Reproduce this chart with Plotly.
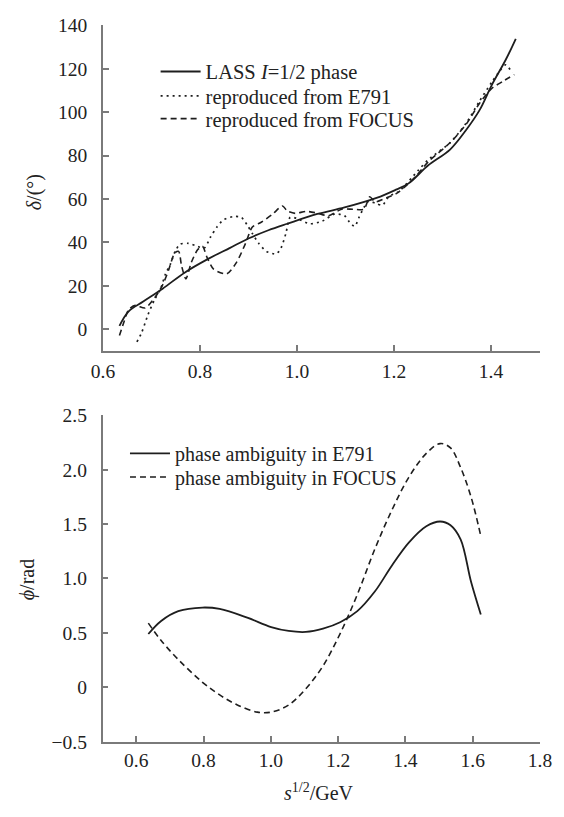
import plotly.graph_objects as go

# ---------- top panel data ----------
lass_x = [0.634, 0.653, 0.683, 0.723, 0.769, 0.815, 0.861, 0.901, 0.941, 0.980, 1.042, 1.098,
          1.164, 1.204, 1.230, 1.270, 1.316, 1.349, 1.376, 1.402, 1.430, 1.451]
lass_y = [1.6, 8.3, 12.8, 18.7, 26.2, 32.2, 37.4, 41.9, 45.6, 48.6, 53.1, 56.1,
          60.5, 64.3, 67.2, 75.4, 82.9, 91.9, 100.8, 112.7, 124.0, 133.8]

e791_x = [0.670, 0.680, 0.693, 0.706, 0.719, 0.729, 0.739, 0.749, 0.759, 0.776, 0.795, 0.809,
          0.822, 0.835, 0.848, 0.868, 0.885, 0.898, 0.908, 0.921, 0.937, 0.957, 0.967, 0.977,
          0.986, 1.000, 1.026, 1.052, 1.078, 1.098, 1.108, 1.119, 1.128, 1.138, 1.148, 1.162,
          1.176, 1.190, 1.210, 1.250, 1.270, 1.316, 1.349, 1.376, 1.402, 1.418, 1.430, 1.444]
e791_y = [-5.8, -1.4, 6.8, 13.5, 18.7, 25.5, 30.0, 35.9, 39.2, 39.6, 38.2, 37.4,
          42.6, 47.1, 50.4, 51.9, 51.6, 47.8, 44.1, 39.6, 35.9, 34.7, 37.4, 44.1,
          51.6, 51.0, 48.6, 49.8, 53.1, 52.3, 49.4, 47.4, 51.6, 56.1, 59.0, 58.0,
          57.2, 61.3, 63.5, 73.2, 78.0, 86.0, 95.0, 105.0, 114.0, 119.0, 121.8, 118.0]

focus_x = [0.634, 0.644, 0.653, 0.667, 0.687, 0.706, 0.723, 0.736, 0.748, 0.756, 0.762, 0.771,
           0.782, 0.795, 0.805, 0.815, 0.828, 0.855, 0.875, 0.894, 0.908, 0.927, 0.950, 0.970,
           0.980, 0.996, 1.019, 1.042, 1.065, 1.092, 1.115, 1.138, 1.150, 1.161, 1.184, 1.207,
           1.244, 1.270, 1.316, 1.349, 1.376, 1.402, 1.423, 1.448]
focus_y = [-2.9, 3.8, 9.1, 11.0, 9.8, 14.3, 20.4, 27.7, 35.2, 35.9, 29.3, 23.2,
           30.7, 36.6, 38.2, 32.9, 27.7, 25.5, 30.7, 39.6, 47.1, 49.4, 53.1, 56.8,
           54.5, 53.4, 54.3, 53.5, 52.3, 55.3, 55.3, 55.3, 61.0, 58.7, 60.5, 62.8,
           70.2, 77.0, 86.0, 94.5, 104.0, 111.0, 114.0, 117.3]

top_xticks = [0.6, 0.8, 1.0, 1.2, 1.4]
top_xtext = ["0.6", "0.8", "1.0", "1.2", "1.4"]
top_yticks = [0, 20, 40, 60, 80, 100, 120, 140]
top_ytext = ["0", "20", "40", "60", "80", "100", "120", "140"]

# ---------- bottom panel data ----------
amb_e791_x = [0.636, 0.674, 0.725, 0.797, 0.848, 0.930, 1.001, 1.053, 1.104, 1.155, 1.206,
              1.257, 1.309, 1.360, 1.410, 1.462, 1.503, 1.534, 1.564, 1.595, 1.624]
amb_e791_y = [0.49, 0.61, 0.70, 0.733, 0.72, 0.64, 0.554, 0.518, 0.509, 0.539, 0.598,
              0.70, 0.88, 1.12, 1.33, 1.48, 1.524, 1.49, 1.36, 0.97, 0.67]

amb_focus_x = [0.636, 0.674, 0.725, 0.797, 0.848, 0.899, 0.960, 1.001, 1.053, 1.104, 1.155,
               1.206, 1.257, 1.309, 1.360, 1.410, 1.462, 1.503, 1.534, 1.564, 1.595, 1.624]
amb_focus_y = [0.59, 0.43, 0.255, 0.046, -0.07, -0.16, -0.228, -0.228, -0.163, -0.013, 0.196,
               0.494, 0.852, 1.27, 1.63, 1.93, 2.15, 2.24, 2.20, 2.02, 1.75, 1.39]

bot_xticks = [0.6, 0.8, 1.0, 1.2, 1.4, 1.6, 1.8]
bot_xtext = ["0.6", "0.8", "1.0", "1.2", "1.4", "1.6", "1.8"]
bot_yticks = [-0.5, 0, 0.5, 1.0, 1.5, 2.0, 2.5]
bot_ytext = ["\u22120.5", "0", "0.5", "1.0", "1.5", "2.0", "2.5"]

W, H = 564, 817
FONT = "Liberation Serif, Times New Roman, serif"
LINE = "#1e1e1e"
AX = "#7a7a7a"
DOT = "2px,4px"
DASH = "6px,4px"

fig = go.Figure()
fig.add_trace(go.Scatter(x=lass_x, y=lass_y, mode="lines", name="LASS <i>I</i>=1/2 phase",
                         line=dict(color=LINE, width=1.8, shape="spline", smoothing=1),
                         xaxis="x", yaxis="y", legend="legend"))
fig.add_trace(go.Scatter(x=e791_x, y=e791_y, mode="lines", name="reproduced from E791",
                         line=dict(color=LINE, width=1.7, dash=DOT, shape="spline", smoothing=0.7),
                         xaxis="x", yaxis="y", legend="legend2"))
fig.add_trace(go.Scatter(x=focus_x, y=focus_y, mode="lines", name="reproduced from FOCUS",
                         line=dict(color=LINE, width=1.6, dash=DASH, shape="spline", smoothing=0.7),
                         xaxis="x", yaxis="y", legend="legend3"))
fig.add_trace(go.Scatter(x=amb_e791_x, y=amb_e791_y, mode="lines", name="phase ambiguity in E791",
                         line=dict(color=LINE, width=1.8, shape="spline", smoothing=1),
                         xaxis="x2", yaxis="y2", legend="legend4"))
fig.add_trace(go.Scatter(x=amb_focus_x, y=amb_focus_y, mode="lines", name="phase ambiguity in FOCUS",
                         line=dict(color=LINE, width=1.6, dash=DASH, shape="spline", smoothing=1),
                         xaxis="x2", yaxis="y2", legend="legend5"))

axis_common = dict(showline=True, linecolor=AX, linewidth=1.5, mirror=False, showgrid=False,
                   zeroline=False, ticks="inside", ticklen=6, tickwidth=1.5, tickcolor=AX,
                   ticklabeloverflow="allow",
                   tickfont=dict(family=FONT, size=19.5, color="#222"), fixedrange=True)


def leg(xpx, ypx, size):
    return dict(x=xpx / W, y=1 - ypx / H, xanchor="left", yanchor="middle",
                bgcolor="rgba(0,0,0,0)", font=dict(family=FONT, size=size, color="#222"),
                itemwidth=40, tracegroupgap=0)


fig.update_layout(
    width=W, height=H, margin=dict(l=0, r=0, t=0, b=0),
    paper_bgcolor="white", plot_bgcolor="white",
    font=dict(family=FONT, size=20, color="#222"),
    xaxis=dict(domain=[95 / W, 551 / W], range=[0.6, 1.5], anchor="y",
               tickvals=top_xticks, ticktext=top_xtext, ticklabelstandoff=2, **axis_common),
    yaxis=dict(domain=[1 - 350 / H, 1 - 15.7 / H], range=[-10, 140], anchor="x",
               tickvals=top_yticks, ticktext=top_ytext, ticklabelstandoff=10, **axis_common),
    xaxis2=dict(domain=[94.6 / W, 551.5 / W], range=[0.5, 1.8], anchor="y2",
                tickvals=bot_xticks, ticktext=bot_xtext, ticklabelstandoff=0, **axis_common),
    yaxis2=dict(domain=[1 - 751 / H, 1 - 416 / H], range=[-0.5, 2.5], anchor="x2",
                tickvals=bot_yticks, ticktext=bot_ytext, ticklabelstandoff=10, **axis_common),
    legend=leg(150, 63.3, 20.5),
    legend2=leg(150, 88.3, 20.5),
    legend3=leg(150, 111.7, 20.5),
    legend4=leg(118, 455, 20),
    legend5=leg(118, 479.3, 20),
    showlegend=True,
    annotations=[
        dict(text="<i>\u03b4</i>/(\u00b0)", x=23 / W, y=1 - 187 / H, xref="paper", yref="paper",
             textangle=-90, showarrow=False, font=dict(family=FONT, size=20, color="#222"),
             xanchor="center", yanchor="middle"),
        dict(text="<i>\u03d5</i>/rad", x=17 / W, y=1 - 585 / H, xref="paper", yref="paper",
             textangle=-90, showarrow=False, font=dict(family=FONT, size=20, color="#222"),
             xanchor="center", yanchor="middle"),
        dict(text="<i>s</i><sup>1/2</sup>/GeV", x=321 / W, y=1 - 803 / H, xref="paper", yref="paper",
             showarrow=False, font=dict(family=FONT, size=20, color="#222"),
             xanchor="center", yanchor="middle"),
    ],
)

fig.write_html("out.html")
